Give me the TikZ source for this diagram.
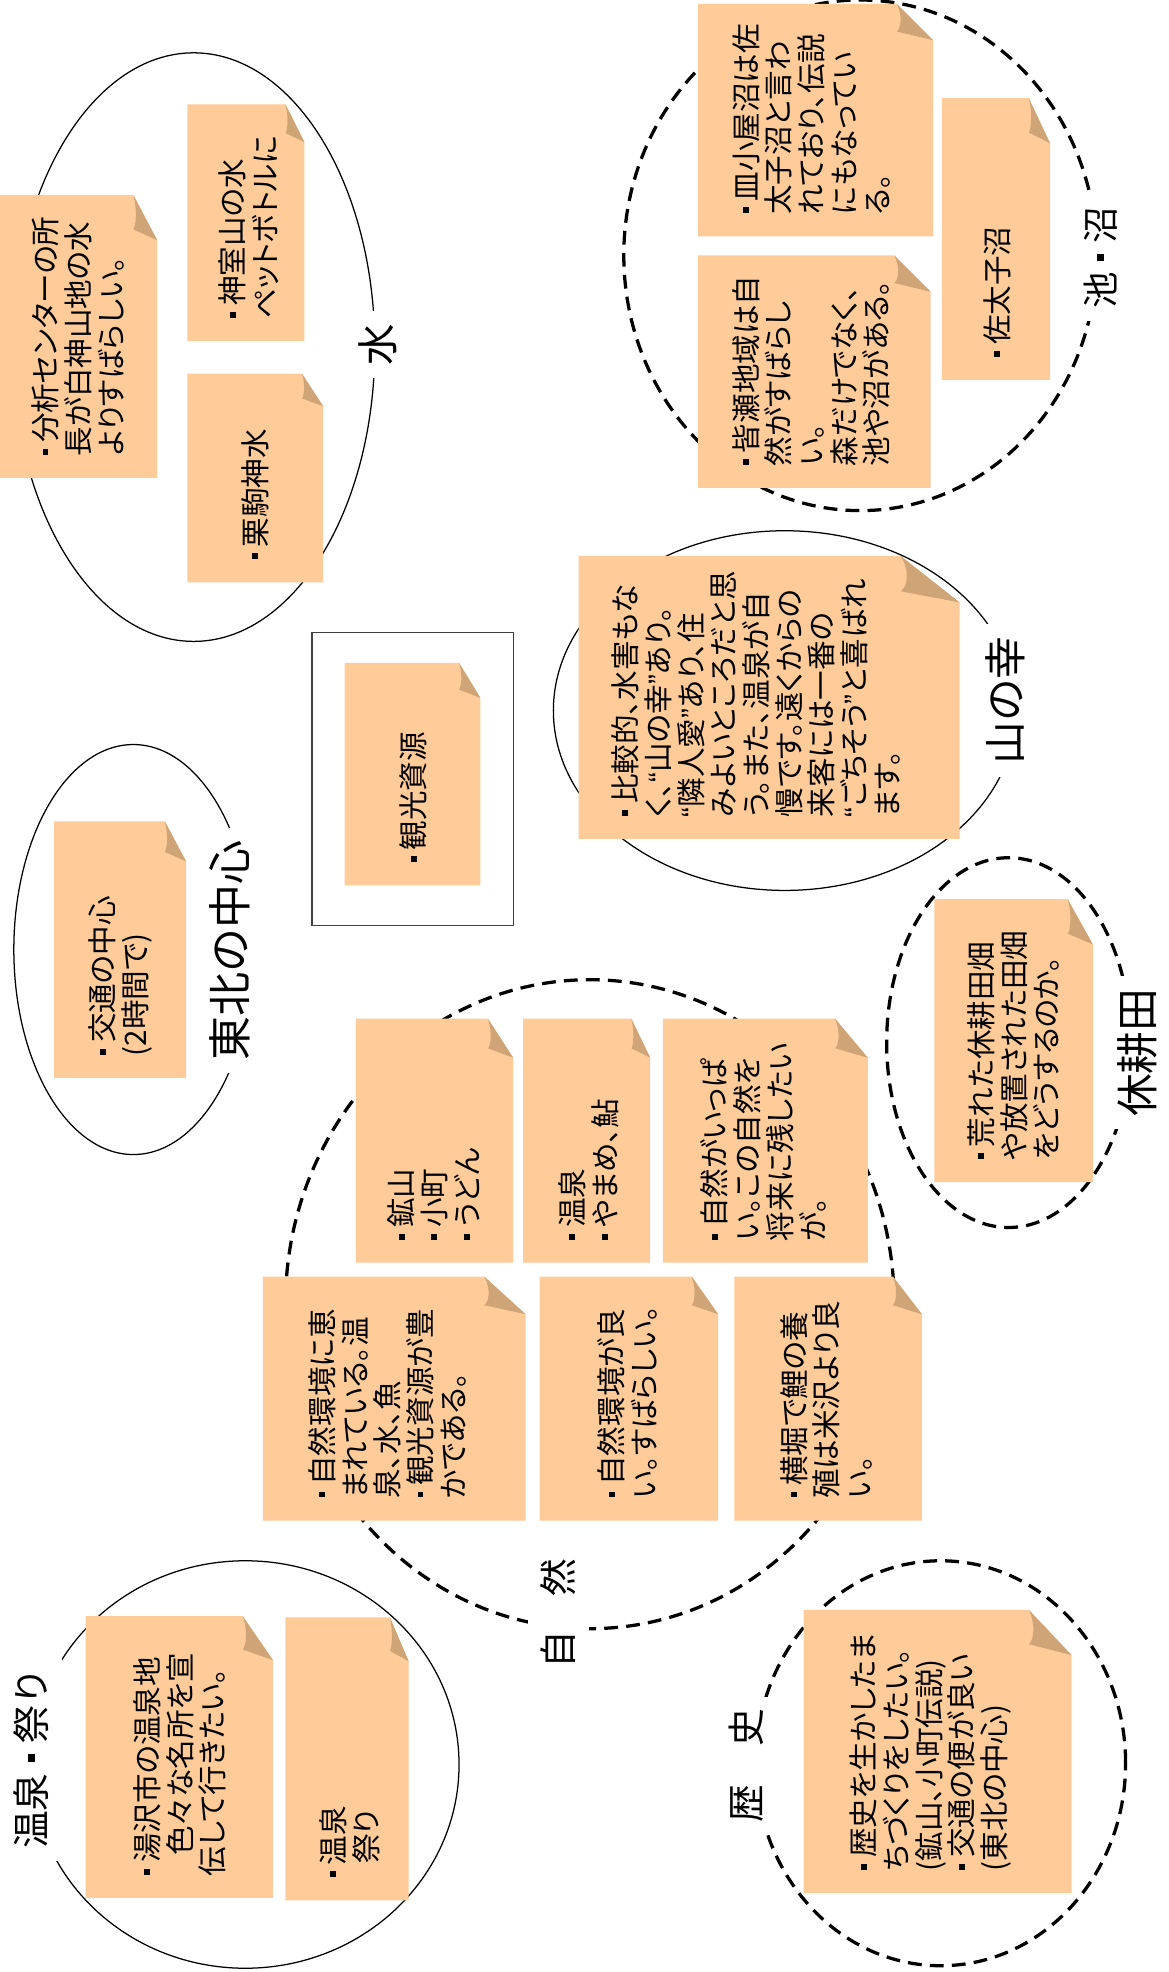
\documentclass[tikz,border=0pt]{standalone}
\usepackage{fontspec}
\setmainfont{Noto Sans CJK JP}[RawFeature=+palt]
\newfontfamily\jpf{Noto Sans CJK JP}
\newfontfamily\qf{Liberation Sans}
\definecolor{notefill}{RGB}{255,204,153}
\definecolor{foldfill}{RGB}{207,165,120}
\definecolor{boxline}{RGB}{64,64,64}
\newcommand\bt{\hspace*{0.05em}\rule[0.28em]{0.2em}{0.2em}\hspace*{0.2em}}
\newcommand\sq{\makebox[0.8em]{\rule[0.28em]{0.2em}{0.2em}}}
\newcommand\oq{{\qf “}}
\newcommand\cq{{\qf ”}}
\tikzset{
  notetext/.style={rotate=90, anchor=west, inner sep=0pt, align=left, font=\fontsize{23.5}{26}\selectfont},
  lab/.style={rotate=90, fill=white, inner sep=10pt, align=center},
  solidring/.style={draw=black, line width=1pt},
  dashring/.style={draw=black, line width=2.6pt, dash pattern=on 11pt off 6.5pt},
}
% \stickynote{name}{x1}{y1}{x2}{y2}{foldw}{foldh}{textx}{text}
\newcommand\stickynote[9]{%
  \fill[notefill] (#2,#3) -- ({#4-#6},#3) -- (#4,{#3+#7}) -- (#4,#5) -- (#2,#5) -- cycle;
  \fill[foldfill] ({#4-#6},#3) .. controls ({#4-0.82*#6},{#3+0.35*#7}) and ({#4-0.9*#6},{#3+0.7*#7}) .. ({#4-#6},{#3+0.76*#7}) -- (#4,{#3+#7}) -- cycle;
  \node[notetext] (#1) at (#8,{#5-17}) {#9};
}
\begin{document}
\begin{tikzpicture}[x=1pt,y=-1pt]
\fill[white] (0,0) rectangle (929,1568);
\useasboundingbox (0,0) rectangle (929,1568);
% rings
\draw[solidring] (154,276) ellipse [x radius=144pt, y radius=234pt];
\draw[dashring] (684,203) ellipse [x radius=188pt, y radius=203pt];
\draw[solidring] (624,565) ellipse [x radius=184pt, y radius=143pt];
\draw[solidring] (106,755) ellipse [x radius=95pt, y radius=163pt];
\draw[dashring] (802,829) ellipse [x radius=97pt, y radius=147pt];
\draw[dashring] (469,1037) ellipse [x radius=242pt, y radius=258pt];
\draw[dashring] (748,1402) ellipse [x radius=147pt, y radius=161pt];
\draw[solidring] (195,1403) ellipse [x radius=170pt, y radius=162pt];
\draw[boxline, line width=1pt] (248,503) rectangle (408,736);
% labels
\node[lab, font=\jpf\fontsize{33}{36}\selectfont] (lw) at (300,274) {水};
\node[lab, font=\jpf\fontsize{29}{32}\selectfont] (lp) at (875,205) {池\sq 沼};
\node[lab, font=\jpf\fontsize{34}{36}\selectfont] (ly) at (799,557) {山の幸};
\node[lab, font=\jpf\fontsize{35}{36}\selectfont] (lt) at (183,756) {東北の中心};
\node[lab, font=\jpf\fontsize{34}{36}\selectfont] (lk) at (904,837) {休耕田};
\node[lab, font=\jpf\fontsize{30}{32}\selectfont] (ln) at (444,1283) {自\hspace{0.9em}然};
\node[lab, font=\jpf\fontsize{30}{32}\selectfont] (lh) at (593,1404) {歴\hspace{1em}史};
\node[lab, font=\jpf\fontsize{30}{32}\selectfont] (lo) at (25,1398) {温泉\sq 祭り};
% notes
\stickynote{w1}{0}{155}{125}{380}{19}{36}{62}{\bt 分析センターの所\\長が白神山地の水\\よりすばらしい。}
\stickynote{w2}{149}{83}{242}{271}{15}{30}{198}{\bt 神室山の水\\ペットボトルに}
\stickynote{w3}{149}{297}{257}{463}{17}{26}{203}{\bt 栗駒神水}
\stickynote{p1}{555}{3}{742}{188}{29}{29}{645}{\bt 皿小屋沼は佐\\太子沼と言わ\\れており、伝説\\にもなってい\\る。}
\stickynote{p2}{555}{203}{740}{388}{29}{29}{645}{\bt 皆瀬地域は自\\然がすばらし\\い。\\森だけでなく、\\池や沼がある。}
\stickynote{p3}{749}{78}{835}{302}{17}{36}{793}{\bt 佐太子沼}
\stickynote{y1}{460}{442}{763}{667}{47}{37}{601}{\bt 比較的、水害もな\\く、\oq 山の幸\cq あり。\\\oq 隣人愛\cq あり、住\\みよいところだと思\\う。また、温泉が自\\慢です。遠くからの\\来客には一番の\\\oq ごちそう\cq と喜ばれ\\ます。}
\stickynote{t1}{43}{653}{148}{857}{17}{32}{96}{\bt 交通の中心\\(2時間で)}
\stickynote{k1}{274}{527}{382}{704}{17}{28}{329}{\bt 観光資源}
\stickynote{q1}{743}{715}{869}{940}{20}{36}{806}{\bt 荒れた休耕田畑\\や放置された田畑\\をどうするのか。}
\stickynote{n1}{283}{810}{408}{1004}{20}{31}{345}{\bt 鉱山\\\bt 小町\\\bt うどん}
\stickynote{n2}{416}{810}{517}{1004}{15}{31}{468}{\bt 温泉\\\bt やまめ、鮎}
\stickynote{n3}{527}{810}{690}{1004}{26}{31}{607}{\bt 自然がいっぱ\\い。この自然を\\将来に残したい\\が。}
\stickynote{n4}{209}{1015}{418}{1209}{33}{30}{308}{\bt 自然環境に恵\\まれている。温\\泉、水、魚\\\bt 観光資源が豊\\かである。}
\stickynote{n5}{429}{1015}{571}{1209}{21}{30}{499}{\bt 自然環境が良\\い。すばらしい。}
\stickynote{n6}{584}{1015}{733}{1209}{23}{30}{657}{\bt 横堀で鯉の養\\殖は米沢より良\\い。}
\stickynote{h1}{639}{1280}{852}{1505}{34}{36}{740}{\bt 歴史を生かしたま\\ちづくりをしたい。\\(鉱山、小町伝説)\\\bt 交通の便が良い\\(東北の中心)}
\stickynote{o1}{68}{1285}{217}{1509}{24}{35}{143}{\bt 湯沢市の温泉地\\\hspace*{0.7em}色々な名所を宣\\伝して行きたい。}
\stickynote{o2}{227}{1286}{325}{1511}{15}{35}{278}{\bt 温泉\\\hspace*{0.5em}祭り}
\end{tikzpicture}
\end{document}
